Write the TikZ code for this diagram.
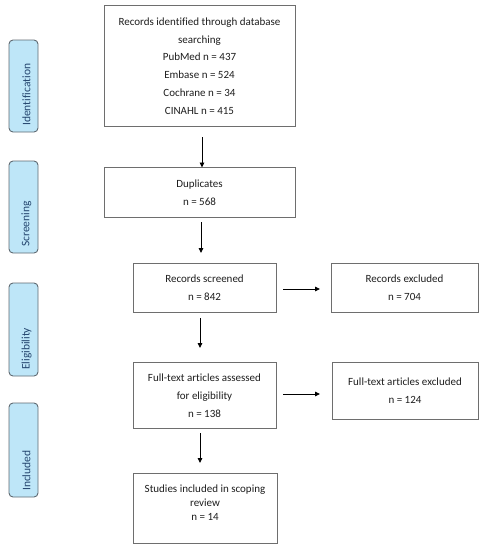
\documentclass[tikz,border=0pt]{standalone}
\usepackage{fontspec}
\setmainfont[Ligatures=NoCommon]{Carlito}
\usetikzlibrary{arrows.meta}
\definecolor{txt}{HTML}{1E1E1E}
\definecolor{boxline}{HTML}{6E6E6E}
\definecolor{phasefill}{HTML}{BEE6F8}
\definecolor{phaseline}{HTML}{5F6A72}
\definecolor{phasetxt}{HTML}{24456E}
\begin{document}
\begin{tikzpicture}[x=1pt,y=-1pt,
  box/.style={draw=boxline,line width=0.8pt,fill=white,inner sep=0pt,outer sep=0pt,
    align=center,text=txt,font=\fontsize{11}{17.8}\selectfont},
  tight/.style={font=\fontsize{11}{14}\selectfont},
  phase/.style={draw=phaseline,line width=0.9pt,fill=phasefill,rounded corners=4pt,
    minimum width=29pt,inner sep=0pt,outer sep=0pt},
  phasetext/.style={rotate=90,anchor=west,text=phasetxt,inner sep=0pt,
    font=\fontsize{11.5}{12}\selectfont},
  arr/.style={-{Triangle[length=5pt,width=4.5pt]},line width=0.9pt,black}]
\useasboundingbox (0,0) rectangle (484,550);
% phase labels
\node[phase,minimum height=92pt] (pid) at (23.5,86) {};
\node[phase,minimum height=92pt] (psc) at (23.5,207) {};
\node[phase,minimum height=93pt] (pel) at (23.5,329.5) {};
\node[phase,minimum height=94pt] (pin) at (23.5,450) {};
\node[phasetext] (tid) at ([xshift=3pt,yshift=6pt]pid.south) {Identification};
\node[phasetext] (tsc) at ([xshift=3pt,yshift=6pt]psc.south) {Screening};
\node[phasetext] (tel) at ([xshift=3pt,yshift=6pt]pel.south) {Eligibility};
\node[phasetext] (tin) at ([xshift=3pt,yshift=6pt]pin.south) {Included};
% boxes
\node[box,minimum width=191pt,minimum height=121pt] (rec) at (199.5,66)
  {Records identified through database\\searching\\PubMed n = 437\\Embase n = 524\\Cochrane n = 34\\CINAHL n = 415};
\node[box,minimum width=191pt,minimum height=50pt] (dup) at (199.5,192.5)
  {Duplicates\\n = 568};
\node[box,minimum width=143pt,minimum height=49pt] (scr) at (204.5,288)
  {Records screened\\n = 842};
\node[box,minimum width=147pt,minimum height=49pt] (exc) at (404.5,288)
  {Records excluded\\n = 704};
\node[box,minimum width=143pt,minimum height=66pt] (ful) at (204.5,395.5)
  {Full-text articles assessed\\for eligibility\\n = 138};
\node[box,minimum width=146pt,minimum height=57pt] (fex) at (405,390.5)
  {Full-text articles excluded\\n = 124};
\node[box,minimum width=144pt,minimum height=70pt] (inc) at (205,508) {};
\node[box,draw=none,fill=none,tight] (inctext) at (205,503)
  {Studies included in scoping\\review\\n = 14};
% arrows
\draw[arr,shorten <=10.5pt] ([xshift=2.5pt]rec.south) -- ([xshift=2.5pt]dup.north);
\draw[arr,shorten <=4.5pt,shorten >=10.5pt] ([xshift=1.5pt]dup.south) -- ([xshift=1.5pt]dup.south |- scr.north);
\draw[arr,shorten <=5.5pt,shorten >=14.5pt] ([xshift=-4.5pt]scr.south) -- ([xshift=-4.5pt]ful.north);
\draw[arr,shorten <=4.5pt,shorten >=10pt] ([xshift=-4.5pt]ful.south) -- ([xshift=-4.5pt]ful.south |- inc.north);
\draw[arr,shorten <=7pt,shorten >=11pt] ([yshift=-1pt]scr.east) -- ([yshift=-1pt]exc.west);
\draw[arr,shorten <=7pt,shorten >=12pt] ([yshift=1.5pt]ful.east) -- ([yshift=1.5pt]ful.east -| fex.west);
\end{tikzpicture}
\end{document}
